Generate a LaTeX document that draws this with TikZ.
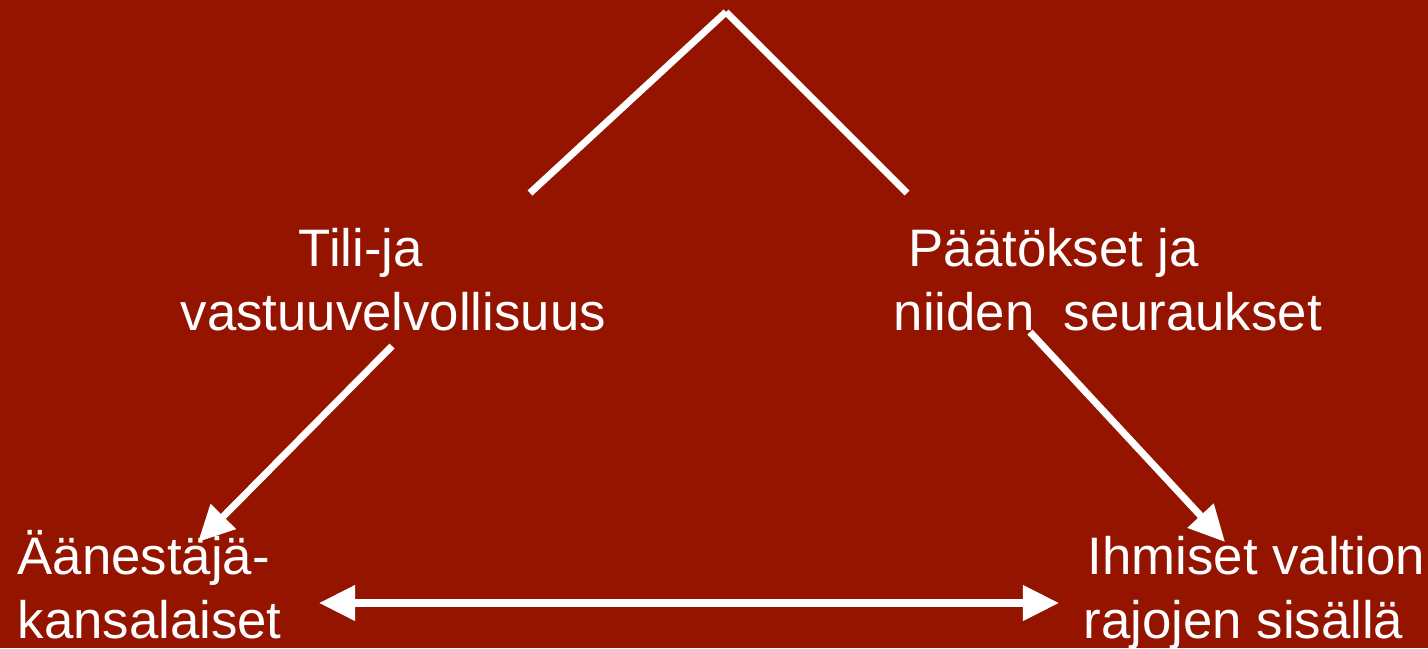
\documentclass[tikz,border=0pt]{standalone}
\usepackage{fontspec}
\setmainfont{Liberation Sans}
\usepackage{tikz}
\usetikzlibrary{arrows.meta}
\definecolor{bgred}{RGB}{148,20,0}

\begin{document}
\begin{tikzpicture}[x=0.01cm, y=0.01cm,
    txt/.style={anchor=base west, inner sep=0pt, text=white, align=left,
      font=\fontsize{15}{18.2}\selectfont},
    wline/.style={draw=white, line width=2pt},
    warrow/.style={wline, -{Triangle[length=0.36cm, width=0.34cm]}},
    wboth/.style={wline, {Triangle[length=0.36cm, width=0.34cm]}-{Triangle[length=0.36cm, width=0.34cm]}}]
  \fill[bgred] (0,-648) rectangle (1428,0);
  \useasboundingbox (0,-648) rectangle (1428,0);

  \node[txt] (tili) at (180,-330) {\hspace*{1.18cm}Tili-ja\\vastuuvelvollisuus};
  \node[txt] (paat) at (893,-330) {\hspace*{0.15cm}Päätökset ja\\niiden\ \ seuraukset};
  \node[txt] (aanest) at (17,-638) {Äänestäjä-\\kansalaiset};
  \node[txt] (ihmiset) at (1083,-638) {\hspace*{0.04cm}Ihmiset valtion\\rajojen sisällä};

  \coordinate (apex) at (726,-12);
  \coordinate (top-l) at (530,-193);
  \coordinate (top-r) at (907,-193);
  \coordinate (tili-s) at (392,-346);
  \coordinate (aanest-n) at (198,-542);
  \coordinate (paat-s) at (1030,-332);
  \coordinate (ihmiset-n) at (1225,-542);
  \coordinate (aanest-e) at (319,-603);
  \coordinate (ihmiset-w) at (1059,-603);

  \draw[wline] (top-l) -- (apex);
  \draw[wline] (apex) -- (top-r);
  \draw[warrow] (tili-s) -- (aanest-n);
  \draw[warrow] (paat-s) -- (ihmiset-n);
  \draw[wboth] (aanest-e) -- (ihmiset-w);
\end{tikzpicture}
\end{document}
